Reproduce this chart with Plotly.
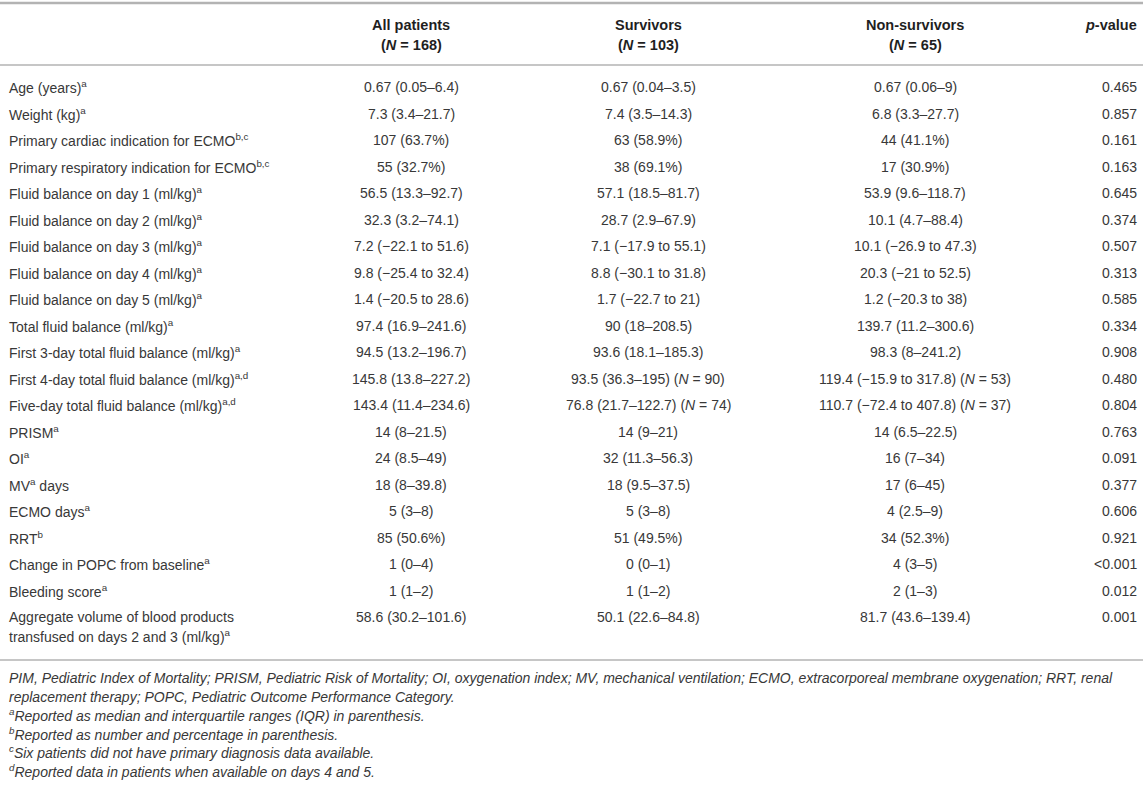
import plotly.graph_objects as go

# ---- data ----
col_headers = ["", "<b>All patients</b><br><b>(<i>N</i> = 168)</b>",
               "<b>Survivors</b><br><b>(<i>N</i> = 103)</b>",
               "<b>Non-survivors</b><br><b>(<i>N</i> = 65)</b>",
               "<b><i>p</i>-value</b>"]

row_labels = [
    "Age (years)<sup>a</sup>",
    "Weight (kg)<sup>a</sup>",
    "Primary cardiac indication for ECMO<sup>b,c</sup>",
    "Primary respiratory indication for ECMO<sup>b,c</sup>",
    "Fluid balance on day 1 (ml/kg)<sup>a</sup>",
    "Fluid balance on day 2 (ml/kg)<sup>a</sup>",
    "Fluid balance on day 3 (ml/kg)<sup>a</sup>",
    "Fluid balance on day 4 (ml/kg)<sup>a</sup>",
    "Fluid balance on day 5 (ml/kg)<sup>a</sup>",
    "Total fluid balance (ml/kg)<sup>a</sup>",
    "First 3-day total fluid balance (ml/kg)<sup>a</sup>",
    "First 4-day total fluid balance (ml/kg)<sup>a,d</sup>",
    "Five-day total fluid balance (ml/kg)<sup>a,d</sup>",
    "PRISM<sup>a</sup>",
    "OI<sup>a</sup>",
    "MV<sup>a</sup> days",
    "ECMO days<sup>a</sup>",
    "RRT<sup>b</sup>",
    "Change in POPC from baseline<sup>a</sup>",
    "Bleeding score<sup>a</sup>",
    "Aggregate volume of blood products<br>transfused on days 2 and 3 (ml/kg)<sup>a</sup>",
]

all_patients = [
    "0.67 (0.05–6.4)", "7.3 (3.4–21.7)", "107 (63.7%)", "55 (32.7%)",
    "56.5 (13.3–92.7)", "32.3 (3.2–74.1)", "7.2 (−22.1 to 51.6)",
    "9.8 (−25.4 to 32.4)", "1.4 (−20.5 to 28.6)", "97.4 (16.9–241.6)",
    "94.5 (13.2–196.7)", "145.8 (13.8–227.2)", "143.4 (11.4–234.6)",
    "14 (8–21.5)", "24 (8.5–49)", "18 (8–39.8)", "5 (3–8)", "85 (50.6%)",
    "1 (0–4)", "1 (1–2)", "58.6 (30.2–101.6)",
]

survivors = [
    "0.67 (0.04–3.5)", "7.4 (3.5–14.3)", "63 (58.9%)", "38 (69.1%)",
    "57.1 (18.5–81.7)", "28.7 (2.9–67.9)", "7.1 (−17.9 to 55.1)",
    "8.8 (−30.1 to 31.8)", "1.7 (−22.7 to 21)", "90 (18–208.5)",
    "93.6 (18.1–185.3)", "93.5 (36.3–195) (<i>N</i> = 90)",
    "76.8 (21.7–122.7) (<i>N</i> = 74)",
    "14 (9–21)", "32 (11.3–56.3)", "18 (9.5–37.5)", "5 (3–8)", "51 (49.5%)",
    "0 (0–1)", "1 (1–2)", "50.1 (22.6–84.8)",
]

non_survivors = [
    "0.67 (0.06–9)", "6.8 (3.3–27.7)", "44 (41.1%)", "17 (30.9%)",
    "53.9 (9.6–118.7)", "10.1 (4.7–88.4)", "10.1 (−26.9 to 47.3)",
    "20.3 (−21 to 52.5)", "1.2 (−20.3 to 38)", "139.7 (11.2–300.6)",
    "98.3 (8–241.2)", "119.4 (−15.9 to 317.8) (<i>N</i> = 53)",
    "110.7 (−72.4 to 407.8) (<i>N</i> = 37)",
    "14 (6.5–22.5)", "16 (7–34)", "17 (6–45)", "4 (2.5–9)", "34 (52.3%)",
    "4 (3–5)", "2 (1–3)", "81.7 (43.6–139.4)",
]

p_values = [
    "0.465", "0.857", "0.161", "0.163", "0.645", "0.374", "0.507", "0.313",
    "0.585", "0.334", "0.908", "0.480", "0.804", "0.763", "0.091", "0.377",
    "0.606", "0.921", "&lt;0.001", "0.012", "0.001",
]

footnotes = [
    "PIM, Pediatric Index of Mortality; PRISM, Pediatric Risk of Mortality; OI, oxygenation index; MV, mechanical ventilation; ECMO, extracorporeal membrane oxygenation; RRT, renal",
    "replacement therapy; POPC, Pediatric Outcome Performance Category.",
    "<sup>a</sup>Reported as median and interquartile ranges (IQR) in parenthesis.",
    "<sup>b</sup>Reported as number and percentage in parenthesis.",
    "<sup>c</sup>Six patients did not have primary diagnosis data available.",
    "<sup>d</sup>Reported data in patients when available on days 4 and 5.",
]

# ---- layout geometry ----
W, H = 1143, 787
FONT = "Liberation Sans, Arial, sans-serif"
TXT = "#383838"
HEAD = "#1f1f1f"
RULE = "#b3b3b3"
BODY_SIZE = 14
HEAD_SIZE = 14.5
FOOT_SIZE = 14

label_x = 8
col_x = [411, 648, 915]
p_x = 1138

row_y0 = 87
row_pitch = 26.5
line_gap = 19

annotations = []
shapes = []


def ann(x, y, text, xanchor="center", size=BODY_SIZE, color=TXT, italic=False):
    annotations.append(dict(
        x=x, y=y, xref="x", yref="y", text=text, showarrow=False,
        xanchor=xanchor, yanchor="middle", align=xanchor,
        borderpad=0,
        font=dict(family=FONT, size=size, color=color,
                  style="italic" if italic else "normal"),
    ))


# headers (two lines each)
for i, h in enumerate(col_headers[1:4]):
    parts = h.split("<br>")
    ann(col_x[i], 25, parts[0], size=HEAD_SIZE, color=HEAD)
    ann(col_x[i], 45, parts[1], size=HEAD_SIZE, color=HEAD)
ann(p_x, 25, col_headers[4], xanchor="right", size=HEAD_SIZE, color=HEAD)

# rows
last_y = None
for i, lab in enumerate(row_labels):
    y = row_y0 + i * row_pitch
    for k, part in enumerate(lab.split("<br>")):
        ann(label_x, y + k * line_gap, part, xanchor="left")
    ann(col_x[0], y, all_patients[i])
    ann(col_x[1], y, survivors[i])
    ann(col_x[2], y, non_survivors[i])
    ann(p_x, y, p_values[i], xanchor="right")
    last_y = y

# rules
top_rule = 3
head_rule = 65
foot_rule = last_y + 43
for yy, wdt in [(top_rule, 2.4), (head_rule, 1.6), (foot_rule, 1.6)]:
    shapes.append(dict(type="line", xref="x", yref="y", x0=0, x1=W, y0=yy, y1=yy,
                       line=dict(color=RULE, width=wdt)))

# footnotes
fn_y0 = foot_rule + 18
fn_pitch = 18.6
for j, fn in enumerate(footnotes):
    ann(label_x, fn_y0 + j * fn_pitch, fn, xanchor="left", size=FOOT_SIZE, italic=True)

fig = go.Figure()
fig.update_layout(
    width=W, height=H,
    margin=dict(l=0, r=0, t=0, b=0),
    paper_bgcolor="white", plot_bgcolor="white",
    xaxis=dict(range=[0, W], visible=False, fixedrange=True),
    yaxis=dict(range=[H, 0], visible=False, fixedrange=True),
    annotations=annotations, shapes=shapes, showlegend=False,
)
fig.write_html("out.html", config={"displayModeBar": False},
               post_script="document.body.style.margin='0px';document.body.style.overflow='hidden';")
